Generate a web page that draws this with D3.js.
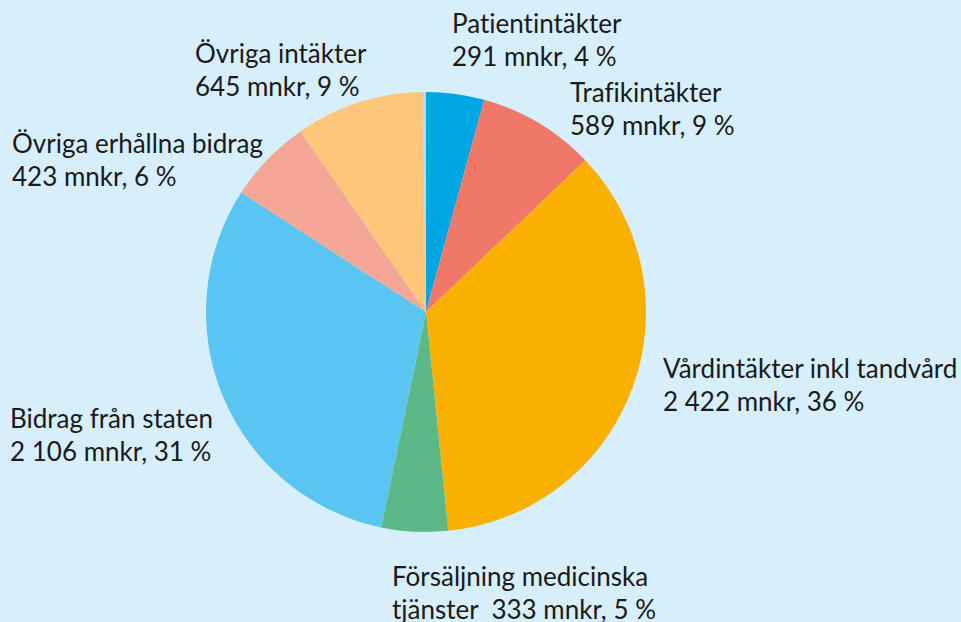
<!DOCTYPE html>
<html>
<head>
<meta charset="utf-8">
<script src="https://cdn.jsdelivr.net/npm/d3@7"></script>
<style>
  html, body { margin: 0; padding: 0; background: #d7eefb; }
  svg { display: block; }
  .lbl { font-family: "Source Sans Pro", Lato, "Noto Sans", sans-serif; font-size: 26px; fill: #1a1a1a;
         font-variant-ligatures: none; white-space: pre; }
</style>
</head>
<body>
<script>
// slices, clockwise from 12 o'clock
const names = ['Patientintäkter', 'Trafikintäkter', 'Vårdintäkter inkl tandvård', 'Försäljning medicinska',
  'Bidrag från staten', 'Övriga erhållna bidrag', 'Övriga intäkter', ''];
const values = [291, 589, 2422, 333, 2106, 423, 645, 15];
const secondLines = ['291 mnkr, 4 %', '589 mnkr, 9 %', '2 422 mnkr, 36 %', 'tjänster  333 mnkr, 5 %',
  '2 106 mnkr, 31 %', '423 mnkr, 6 %', '645 mnkr, 9 %', ''];
const colors = ['#00a6e2', '#ef7869', '#fab000', '#5cb886', '#5bc5f1', '#f4a797', '#fdc679', '#b4def4'];

// where the label text sits (left x, first baseline)
const labelPos = [[452, 33], [570, 102], [663, 378], [392, 586], [10, 428], [12, 153], [195, 63], [0, 0]];

const w = 961, h = 622;
const cx = 426, cy = 312, r = 220;

const svg = d3.select('body').append('svg')
  .attr('width', w)
  .attr('height', h);

const pie = d3.pie().sort(null).value(d => d);
const arc = d3.arc().innerRadius(0).outerRadius(r);

const g = svg.append('g').attr('transform', `translate(${cx},${cy})`);

g.selectAll('path')
  .data(pie(values))
  .enter()
  .append('path')
  .attr('d', arc)
  .attr('fill', (d, i) => colors[i]);

names.forEach((n, i) => {
  if (!n) return;
  const t = svg.append('text')
    .attr('class', 'lbl')
    .attr('x', labelPos[i][0])
    .attr('y', labelPos[i][1]);
  t.append('tspan').attr('x', labelPos[i][0]).text(n);
  t.append('tspan').attr('x', labelPos[i][0]).attr('dy', 33).text(secondLines[i]);
});
</script>
</body>
</html>
